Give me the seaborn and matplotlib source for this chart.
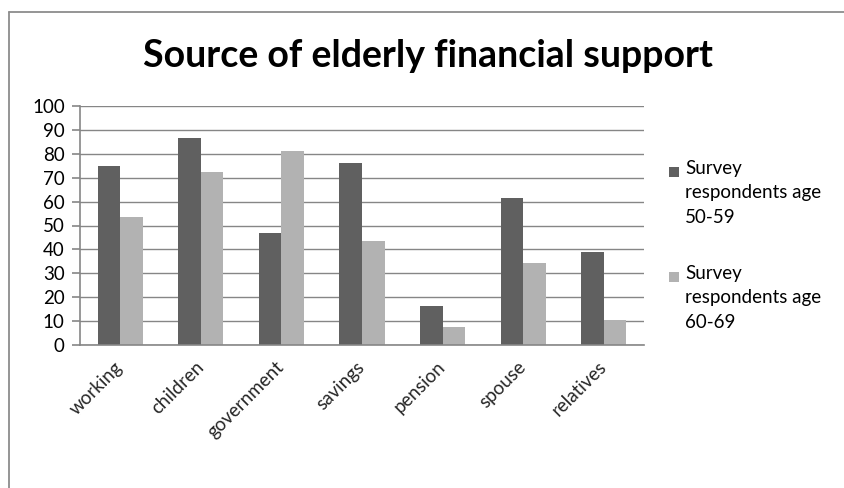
import matplotlib
matplotlib.use("Agg")
import matplotlib.pyplot as plt
from matplotlib.patches import Rectangle
from matplotlib.lines import Line2D
from matplotlib.transforms import ScaledTranslation
import seaborn as sns
import pandas as pd

categories = ["working", "children", "government", "savings", "pension", "spouse", "relatives"]
age_50_59 = [75, 86.6, 47, 76, 16.5, 61.5, 39]
age_60_69 = [53.4, 72.3, 81.3, 43.5, 7.6, 34.5, 10.5]
series_names = ["Survey respondents age 50-59", "Survey respondents age 60-69"]
legend_labels = ["Survey\nrespondents age\n50-59", "Survey\nrespondents age\n60-69"]
series_colors = ["#606060", "#b2b2b2"]
y_ticks = list(range(0, 101, 10))
title = "Source of elderly financial support"

df = pd.DataFrame({
    "source": categories * 2,
    "percent": age_50_59 + age_60_69,
    "group": [series_names[0]] * len(categories) + [series_names[1]] * len(categories),
})

sns.set_theme(style="white")
plt.rcParams["font.family"] = ["Lato", "DejaVu Sans"]

W, H = 844, 488
fig = plt.figure(figsize=(W / 100, H / 100), dpi=100)
ax = fig.add_axes([80 / W, 1 - 345 / H, 564 / W, 239 / H])

# outer chart frame: only its top and left edges fall inside the canvas
frame_kw = dict(color="#8c8c8c", linewidth=1.3, transform=fig.transFigure)
fig.lines.append(Line2D([9 / W, 9 / W], [0, 1 - 12 / H], **frame_kw))
fig.lines.append(Line2D([9 / W, 1], [1 - 12 / H, 1 - 12 / H], **frame_kw))

sns.barplot(data=df, x="source", y="percent", hue="group", order=categories,
            hue_order=series_names, palette=series_colors,
            width=0.56, gap=0, saturation=1, ax=ax, legend=False, edgecolor="none")

ax.set_ylim(0, 100)
ax.set_xlim(-0.5, len(categories) - 0.5)
ax.set_yticks(y_ticks)
ax.set_yticklabels([str(t) for t in y_ticks], fontsize=13.5, color="#000000")
ax.yaxis.grid(True, color="#868686", linewidth=1.0)
ax.set_axisbelow(True)
ax.set_xlabel("")
ax.set_ylabel("")

# category labels at centres, boundary tick marks between groups
ax.set_xticks(range(len(categories)))
ax.set_xticklabels(categories, rotation=45, ha="right", va="center",
                   rotation_mode="anchor", fontsize=13.5)
shift = ScaledTranslation(5 / 100, 0, fig.dpi_scale_trans)
for lbl in ax.get_xticklabels():
    lbl.set_transform(lbl.get_transform() + shift)
ax.set_xticks([i - 0.5 for i in range(len(categories) + 1)], minor=True)
ax.tick_params(axis="x", which="major", length=0, pad=14)
ax.tick_params(axis="x", which="minor", length=5, width=1.2, color="#868686", direction="out")
ax.tick_params(axis="y", which="major", length=6, width=1.2, color="#868686", direction="out",
               left=True, pad=5)

for side in ["top", "right"]:
    ax.spines[side].set_visible(False)
for side in ["left", "bottom"]:
    ax.spines[side].set_color("#868686")
    ax.spines[side].set_linewidth(1.2)

fig.text(428 / W, 1 - 56 / H, title, ha="center", va="center",
         fontsize=27, fontweight="bold", color="#000000")

# legend: colour square beside the first line of each entry
for label, color, y_top in zip(legend_labels, series_colors, [172, 277]):
    fig.patches.append(Rectangle((669 / W, 1 - (y_top + 5) / H), 10 / W, 10 / H,
                                 transform=fig.transFigure, facecolor=color,
                                 edgecolor="none"))
    fig.text(685 / W, 1 - (y_top - 12) / H, label, ha="left", va="top",
             fontsize=13.5, linespacing=1.52, color="#000000")

fig.savefig("out.png", dpi=100)
